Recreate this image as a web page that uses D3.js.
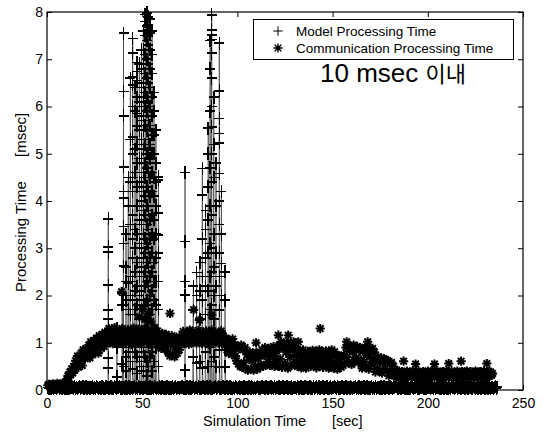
<!DOCTYPE html>
<html>
<head>
<meta charset="utf-8">
<script src="https://cdn.jsdelivr.net/npm/d3@7"></script>
<style>
  body { margin: 0; background: #fff; }
  svg { display: block; font-family: "Liberation Sans", Arial, sans-serif; }
</style>
</head>
<body>
<div id="chart"></div>
<script>
// Processing time per simulation step: model (+) vs communication (*).
const xTicks = [0, 50, 100, 150, 200, 250];
const yTicks = [0, 1, 2, 3, 4, 5, 6, 7, 8];
const seriesNames = ["Model Processing Time", "Communication Processing Time"];

// Samples are every 0.5 s of simulation time.
const sampleStep = 0.5;
const modelStart = 0.5;
const modelBase = [
  0.05,0.03,0.07,0.04,0.06,0.07,0.04,0.06,0.05,0.03,0.06,0.07,0.04,0.05,0.07,0.03,0.06,0.05,0.04,0.07,
  0.04,0.06,0.03,0.05,0.07,0.05,0.06,0.03,0.07,0.04,0.05,0.04,0.06,0.07,0.03,0.06,0.05,0.07,0.03,0.05,
  0.07,0.04,0.06,0.05,0.03,0.06,0.05,0.07,0.03,0.06,0.04,0.07,0.05,0.03,0.06,0.05,0.04,0.07,0.06,0.04,
  0.03,0.07,0.05,0.06,0.04,0.05,0.07,0.04,0.06,0.03,0.07,0.05,0.04,0.06,0.05,0.07,0.03,0.06,0.04,0.06,
  0.06,0.04,0.07,0.03,0.05,0.07,0.04,0.05,0.06,0.03,0.05,0.07,0.04,0.06,0.03,0.07,0.05,0.04,0.06,0.05,
  0.04,0.06,0.05,0.07,0.03,0.06,0.04,0.07,0.03,0.05,0.06,0.04,0.07,0.05,0.04,0.06,0.03,0.07,0.05,0.03,
  0.07,0.05,0.03,0.06,0.04,0.07,0.05,0.03,0.06,0.04,0.06,0.07,0.03,0.05,0.07,0.04,0.06,0.05,0.04,0.06,
  0.05,0.07,0.06,0.04,0.06,0.03,0.07,0.05,0.04,0.07,0.03,0.06,0.05,0.07,0.04,0.06,0.05,0.03,0.07,0.04,
  0.06,0.03,0.05,0.07,0.05,0.04,0.06,0.07,0.03,0.05,0.07,0.04,0.06,0.03,0.06,0.05,0.07,0.04,0.05,0.07,
  0.03,0.06,0.04,0.06,0.07,0.05,0.03,0.05,0.07,0.04,0.06,0.07,0.03,0.05,0.04,0.06,0.04,0.07,0.05,0.03,
  0.05,0.07,0.04,0.05,0.06,0.03,0.07,0.04,0.06,0.05,0.03,0.07,0.06,0.04,0.07,0.05,0.03,0.06,0.04,0.06,
  0.07,0.04,0.06,0.03,0.05,0.07,0.05,0.06,0.04,0.07,0.05,0.03,0.06,0.05,0.07,0.03,0.06,0.04,0.07,0.04,
  0.05,0.06,0.03,0.07,0.04,0.06,0.05,0.07,0.04,0.06,0.05,0.07,0.03,0.05,0.06,0.04,0.07,0.03,0.06,0.05,
  0.06,0.04,0.07,0.05,0.03,0.05,0.07,0.04,0.06,0.03,0.07,0.05,0.06,0.04,0.05,0.07,0.03,0.06,0.04,0.07,
  0.04,0.05,0.07,0.04,0.06,0.07,0.03,0.06,0.05,0.07,0.04,0.06,0.05,0.07,0.03,0.04,0.06,0.07,0.03,0.05,
  0.06,0.07,0.05,0.03,0.07,0.04,0.06,0.04,0.05,0.07,0.06,0.03,0.05,0.07,0.04,0.05,0.06,0.03,0.07,0.05,
  0.04,0.05,0.06,0.07,0.03,0.06,0.04,0.07,0.05,0.03,0.06,0.05,0.07,0.04,0.06,0.07,0.04,0.05,0.03,0.06,
  0.07,0.03,0.05,0.04,0.07,0.04,0.06,0.05,0.06,0.04,0.07,0.03,0.05,0.07,0.03,0.06,0.05,0.06,0.04,0.07,
  0.05,0.06,0.03,0.06,0.05,0.07,0.07,0.03,0.04,0.06,0.05,0.04,0.07,0.06,0.05,0.03,0.07,0.04,0.06,0.03,
  0.03,0.06,0.07,0.05,0.04,0.05,0.06,0.07,0.04,0.06,0.03,0.07,0.05,0.06,0.07,0.04,0.05,0.03,0.07,0.06,
  0.07,0.05,0.04,0.06,0.05,0.03,0.07,0.04,0.06,0.07,0.05,0.06,0.03,0.04,0.07,0.05,0.04,0.07,0.06,0.04,
  0.04,0.07,0.06,0.03,0.07,0.06,0.05,0.04,0.05,0.07,0.03,0.06,0.07,0.05,0.04,0.06,0.07,0.05,0.03,0.05,
  0.06,0.04,0.05,0.07,0.06,0.04,0.03,0.07,0.05,0.04,0.06,0.07,0.04,0.06,0.05,0.03,0.07,0.05,0.06,0.03,
  0.05,0.07,0.04,0.06,0.07,0.04,0.05,0.06,0.03,0.05,0.07,0.04,0.06
];

// Bursts of model time: simulation time of each burst and the values logged there.
const spikeT = [
  32.2, 36.8, 39.5, 40.2, 41.5, 42.7, 43.8, 45.0, 46.3, 47.3, 48.5, 49.6, 50.6, 51.6,
  52.5, 53.3, 54.2, 55.2, 56.2, 57.2, 58.5,
  72.5, 76.9, 78.6, 80.2, 81.6, 83.3, 84.7, 85.7, 86.5, 87.6, 88.8, 90.5, 91.6, 93.5
];
const spikeV = [
  [3.62, 3.03, 2.92, 2.22, 1.69, 1.5, 0.68, 0.47],
  [1.3, 0.9, 0.28],
  [2.05, 1.8, 0.55],
  [7.55, 6.32, 5.8, 4.72, 4.2, 4.06, 3.46, 3.1, 2.62, 2.0, 1.8, 0.9, 0.5],
  [3.3, 2.6, 2.3, 1.9, 0.7, 0.4],
  [4.5, 3.9, 2.26, 1.7, 0.8],
  [6.6, 5.3, 4.4, 3.5, 2.4, 2.0, 1.6, 0.6],
  [7.44, 7.13, 6.62, 6.46, 6.0, 5.36, 5.0, 4.5, 4.2, 3.7, 3.2, 2.8, 2.3, 1.9, 0.95, 0.45],
  [6.4, 5.9, 5.1, 4.6, 3.4, 3.0, 2.5, 2.1, 1.7, 0.8],
  [6.93, 6.74, 6.55, 6.2, 5.85, 5.59, 5.2, 4.8, 4.3, 3.9, 3.3, 2.7, 2.2, 1.8, 0.7, 0.35],
  [6.9, 6.1, 5.5, 4.9, 4.4, 3.6, 3.1, 2.4, 2.0, 1.5, 0.6],
  [7.2, 6.8, 6.4, 6.0, 5.7, 5.3, 4.9, 4.4, 4.0, 3.5, 3.0, 2.6, 2.1, 1.7, 0.9, 0.5],
  [7.6, 7.2, 6.9, 6.5, 6.2, 5.8, 5.5, 5.1, 4.6, 4.2, 3.8, 3.3, 2.8, 2.4, 1.9, 0.8, 0.4],
  [7.95, 7.8, 7.5, 7.1, 6.7, 6.3, 6.0, 5.6, 5.2, 4.8, 4.5, 4.1, 3.7, 3.2, 2.9, 2.5, 2.2, 1.8, 0.7],
  [7.98, 7.7, 7.4, 7.0, 6.6, 6.2, 5.9, 5.5, 5.0, 4.7, 4.3, 3.9, 3.5, 3.1, 2.7, 2.3, 1.9, 1.5, 0.6, 0.3],
  [7.9, 7.6, 7.3, 6.9, 6.5, 6.1, 5.7, 5.3, 5.0, 4.6, 4.2, 3.8, 3.4, 3.0, 2.6, 2.2, 1.8, 0.9, 0.5],
  [7.85, 7.55, 7.2, 6.8, 6.4, 6.0, 5.6, 5.2, 4.9, 4.5, 4.1, 3.6, 3.2, 2.8, 2.4, 2.0, 1.6, 0.7],
  [7.6, 7.1, 6.7, 6.2, 5.8, 5.4, 5.0, 4.6, 4.2, 3.7, 3.3, 2.9, 2.5, 2.1, 1.7, 0.8, 0.4],
  [6.3, 5.9, 5.4, 5.0, 4.5, 4.1, 3.6, 3.2, 2.7, 2.3, 1.9, 0.6],
  [5.5, 4.8, 4.4, 3.9, 3.3, 2.8, 2.3, 1.8, 0.9],
  [4.51, 4.45, 3.74, 3.28, 2.9, 2.3, 1.7, 0.5],
  [4.6, 3.14, 2.3, 2.01, 0.42],
  [2.2, 1.69, 0.7],
  [2.49, 2.0, 0.57],
  [2.7, 2.1, 1.5, 0.6],
  [4.69, 4.13, 3.2, 2.4, 1.9, 0.46],
  [3.8, 3.4, 2.8, 2.2, 1.6, 0.8],
  [5.54, 5.0, 4.3, 3.6, 2.9, 2.1, 0.5],
  [7.4, 6.8, 5.9, 4.7, 3.9, 3.1, 2.4, 1.7, 0.9],
  [7.94, 7.62, 7.51, 7.42, 7.13, 6.6, 6.0, 5.57, 5.0, 4.4, 3.7, 3.0, 2.5, 1.8, 0.6],
  [6.2, 5.2, 4.5, 3.3, 2.6, 2.0, 1.5, 0.7],
  [4.8, 3.9, 2.9, 2.2, 0.5],
  [7.34, 6.33, 5.75, 5.43, 5.23, 4.58, 4.0, 3.5, 2.9, 2.4, 1.69, 0.85, 0.49],
  [4.2, 3.3, 2.68, 2.0, 1.2],
  [2.5, 1.9, 0.85, 0.49]
];

const commStart = 0.5;
const commBand = [
  0.10,0.12,0.08,0.11,0.09,0.13,0.10,0.07,0.12,0.10,0.14,0.09,0.11,0.13,0.08,0.12,0.15,0.10,0.13,0.16,
  0.22,0.30,0.26,0.38,0.33,0.45,0.36,0.50,
  0.42,0.62,0.55,0.72,0.48,0.68,
  0.60,0.78,0.52,0.85,0.70,0.66,0.88,0.74,
  0.80,0.95,0.68,1.02,0.86,0.75,1.05,0.92,
  0.84,1.10,0.95,0.78,1.15,1.00,0.88,1.18,1.05,0.92,1.22,1.08,
  1.02,1.18,1.30,1.00,1.12,1.24,0.98,1.15,1.32,1.05,1.20,0.97,1.10,1.26,1.03,1.16,1.30,0.97,
  1.13,1.23,1.01,1.19,1.28,1.04,1.11,1.25,0.96,1.17,1.31,1.06,1.14,1.22,1.00,1.29,1.09,1.18,
  0.98,1.24,1.12,1.05,1.30,1.15,1.02,1.19,1.27,0.97,1.13,1.22,1.07,1.16,1.32,1.01,1.10,1.25,
  0.92,1.15,1.05,0.88,1.20,0.98,1.10,0.86,1.18,1.00,
  0.80,1.08,0.72,0.95,1.15,0.76,1.02,0.70,0.90,1.12,0.78,1.05,0.85,1.10,
  1.00,1.15,1.24,0.98,1.10,1.22,1.04,1.17,0.97,1.27,1.08,1.13,1.01,1.23,1.06,1.18,0.99,1.12,1.26,1.03,1.16,1.09,0.98,
  1.22,1.14,1.02,1.25,1.07,1.11,0.97,1.19,1.05,1.27,1.10,1.00,1.16,1.23,1.04,1.13,0.99,1.18,1.08,1.25,1.02,1.15,1.06,
  0.95,1.10,0.85,1.05,0.78,1.00,0.90,0.75,1.08,0.82,0.96,0.72,
  0.62,0.92,0.55,0.88,0.50,0.95,0.48,0.85,0.58,0.90,
  0.45,0.75,0.42,0.70,0.80,0.44,0.62,0.78,0.42,0.72,0.50,0.80,0.44,0.66,0.76,0.48,
  0.52,0.85,0.50,0.74,0.90,0.54,0.80,0.60,0.88,0.52,0.72,0.84,0.56,0.92,0.50,0.78,0.64,0.86,
  0.50,0.95,0.66,1.02,0.48,0.88,0.98,0.56,0.80,1.00,0.46,0.90,0.70,0.97,0.52,0.84,1.02,0.60,0.92,0.74,
  0.50,0.80,0.60,0.84,0.47,0.70,0.85,0.54,0.76,0.46,0.66,0.82,0.58,0.78,0.50,0.72,0.84,0.52,0.64,
  0.82,0.47,0.76,0.60,0.85,0.52,0.68,0.80,0.48,0.74,0.58,0.83,0.54,0.70,0.46,0.79,0.62,0.85,0.50,
  0.46,0.72,0.54,0.74,0.44,0.66,0.60,0.72,0.48,0.70,0.52,0.74,
  0.56,0.90,0.70,0.95,0.58,0.86,0.92,0.54,0.80,0.95,0.62,0.88,0.68,0.92,0.58,0.84,0.90,0.64,
  0.46,0.82,0.60,0.90,0.50,0.74,0.92,0.44,0.70,0.86,0.54,0.88,0.62,0.80,
  0.38,0.66,0.46,0.70,0.40,0.60,0.68,0.36,0.58,0.66,0.44,0.64,0.40,0.62,
  0.30,0.55,0.36,0.58,0.32,0.50,0.42,0.34,
  0.27,0.38,0.31,0.40,0.26,0.34,0.39,0.29,0.36,0.25,0.33,0.40,0.28,0.35,0.32,0.38,0.27,
  0.39,0.30,0.36,0.26,0.40,0.33,0.28,0.38,0.31,0.35,0.25,0.39,0.32,0.29,0.36,0.27,0.40,
  0.34,0.26,0.38,0.30,0.39,0.33,0.27,0.35,0.40,0.28,0.36,0.31,0.25,0.38,0.33,0.39,0.29,
  0.35,0.27,0.40,0.32,0.26,0.36,0.30,0.39,0.34,0.28,0.38,0.25,0.35,0.40,0.31,0.27,0.36,
  0.33,0.39,0.29,0.26,0.38,0.32,0.40,0.28,0.35,0.30,0.39,0.27,0.34,0.36,0.25,0.40,0.31,
  0.38,0.28,0.33,0.39,0.26,0.35,0.30,0.40,0.32,0.27,0.36,0.34,0.39,0.29,0.38,0.31,0.35
];
// Isolated communication samples above the band.
const commOutT = [39.2, 48.5, 50.2, 51.5, 53.0, 54.5, 64.6, 77.0, 80.0, 86.5, 109.8, 121.5, 126.7,
  132.0, 143.5, 151.0, 157.4, 168.4, 187.3, 193.6, 203.5, 211.0, 217.5, 231.0];
const commOutV = [2.08, 1.55, 1.72, 1.5, 1.62, 1.45, 1.62, 1.7, 1.48, 1.59, 1.0, 1.16, 1.16,
  1.02, 1.3, 0.81, 1.02, 1.02, 0.61, 0.55, 0.55, 0.56, 0.61, 0.56];

const annotation = ["10 msec ", "이내"];

const W = 545, H = 433;
const x = d3.scaleLinear([0, 250], [47, 523]);
const y = d3.scaleLinear([0, 8], [390, 12]);

const svg = d3.select("#chart").append("svg")
  .attr("width", W).attr("height", H)
  .attr("viewBox", `0 0 ${W} ${H}`);
svg.append("rect").attr("width", W).attr("height", H).attr("fill", "#fff");

// model series in time order: base samples with the bursts slotted in
const model = modelBase.map((v, i) => ({ t: modelStart + i * sampleStep, v }));
spikeT.forEach((t, i) => spikeV[i].forEach((v) => model.push({ t, v })));
model.sort((a, b) => a.t - b.t);

const comm = commBand.map((v, i) => ({ t: commStart + i * sampleStep, v }))
  .concat(commOutT.map((t, i) => ({ t, v: commOutV[i] })));

const plusPath = "M-5,0H5M0,-6.5V6.5";
const starPath = "M-4.6,0H4.6M0,-4.6V4.6M-3.3,-3.3L3.3,3.3M-3.3,3.3L3.3,-3.3";

svg.append("path")
  .datum(model)
  .attr("fill", "none").attr("stroke", "#444").attr("stroke-width", 0.75)
  .attr("d", d3.line().x((d) => x(d.t)).y((d) => y(d.v)));

svg.append("g").attr("shape-rendering", "crispEdges")
  .selectAll("path").data(model).join("path")
  .attr("transform", (d) => `translate(${x(d.t)},${y(d.v)})`)
  .attr("d", plusPath).attr("fill", "none").attr("stroke", "#000").attr("stroke-width", 1.6);

svg.append("g").selectAll("path").data(comm).join("path")
  .attr("transform", (d) => `translate(${x(d.t)},${y(d.v)})`)
  .attr("d", starPath).attr("fill", "none").attr("stroke", "#000").attr("stroke-width", 2);

// axes: ticks point inward on all four sides, MATLAB style
const tickFont = (g) => g.selectAll("text").attr("font-size", 14)
  .attr("font-family", "'Liberation Sans', Arial, sans-serif").attr("fill", "#000");
svg.append("g").attr("transform", "translate(47,0)")
  .call(d3.axisLeft(y).tickValues(yTicks).tickSize(-5).tickPadding(4))
  .call((g) => g.select(".domain").remove()).call(tickFont);
svg.append("g").attr("transform", "translate(523,0)")
  .call(d3.axisRight(y).tickValues(yTicks).tickSize(-5).tickFormat(""))
  .call((g) => g.select(".domain").remove());
svg.append("g").attr("transform", "translate(0,390)")
  .call(d3.axisBottom(x).tickValues(xTicks).tickSize(-5).tickPadding(8))
  .call((g) => g.select(".domain").remove()).call(tickFont);
svg.append("g").attr("transform", "translate(0,12)")
  .call(d3.axisTop(x).tickValues(xTicks).tickSize(-5).tickFormat(""))
  .call((g) => g.select(".domain").remove());
svg.selectAll(".tick line").attr("stroke", "#000");

svg.append("rect")
  .attr("x", x(0)).attr("y", y(8))
  .attr("width", x(250) - x(0)).attr("height", y(0) - y(8))
  .attr("fill", "none").attr("stroke", "#000").attr("stroke-width", 1.2);

// axis titles
svg.append("text").attr("x", 203).attr("y", 426).attr("font-size", 14.5).text("Simulation Time");
svg.append("text").attr("x", 332).attr("y", 426).attr("font-size", 14.5).text("[sec]");
svg.append("text").attr("transform", "translate(26,292) rotate(-90)")
  .attr("font-size", 15).text("Processing Time");
svg.append("text").attr("transform", "translate(26,157) rotate(-90)")
  .attr("font-size", 15).text("[msec]");

// legend
const lg = svg.append("g");
lg.append("rect").attr("x", 253.5).attr("y", 19.5).attr("width", 260).attr("height", 40)
  .attr("fill", "#fff").attr("stroke", "#000").attr("stroke-width", 1);
lg.selectAll("path.key").data(seriesNames).join("path").attr("class", "key")
  .attr("transform", (_, i) => `translate(278,${31 + i * 17})`)
  .attr("d", (_, i) => (i === 0 ? "M-4.7,0H4.7M0,-4.7V4.7" : starPath))
  .attr("fill", "none").attr("stroke", "#000").attr("stroke-width", (_, i) => (i === 0 ? 1 : 1.4));
lg.selectAll("text").data(seriesNames).join("text")
  .attr("x", 296).attr("y", (_, i) => 36 + i * 17)
  .attr("font-size", 13.5).text((d) => d);

const note = svg.append("text").attr("x", 320).attr("y", 82);
note.append("tspan").attr("font-size", 26).text(annotation[0]);
note.append("tspan").attr("font-size", 22)
  .attr("font-family", "'Noto Sans CJK KR', sans-serif").text(annotation[1]);
</script>
</body>
</html>
